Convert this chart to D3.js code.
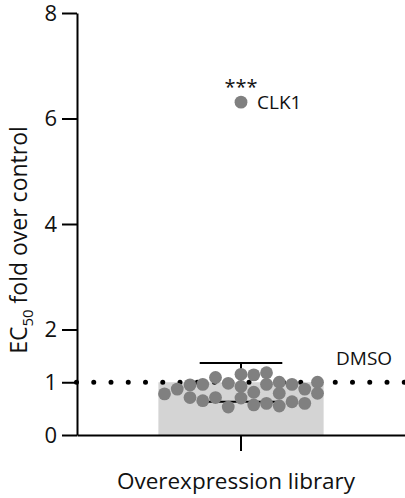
<!DOCTYPE html>
<html><head><meta charset="utf-8">
<script src="https://cdn.jsdelivr.net/npm/d3@7/dist/d3.min.js"></script>
<style>
body{margin:0;background:#fff}
svg{display:block}
text{font-family:"Open Sans",sans-serif;fill:#111}
</style>
</head><body>
<svg id="chart" width="405" height="498"></svg>
<script>
// ---- data ----
const category = ["Overexpression library"];
const geneValues = [6.31,
  0.92, 1.15, 0.70,
  1.14, 0.81, 0.57,
  0.98, 0.53,
  0.96, 0.60,
  0.71,
  1.09, 0.79, 0.55,
  0.96, 0.65,
  1.18, 0.96, 0.63,
  0.95, 0.71,
  0.87,
  0.87, 0.60,
  1.00, 0.79,
  1.00, 0.78];
const labelledGene = ["CLK1"];
const labelledValue = [6.31];
const significance = ["***"];
const barMean = [1.0];
const errorBar = [0.63, 1.365];
const controlLabel = ["DMSO"];
const controlValue = [1];
const yTicks = [0, 1, 2, 4, 6, 8];
const yTitleMain = ["EC", "50", " fold over control"];

// ---- layout ----
const svg = d3.select("#chart");
const y = d3.scaleLinear().domain([0, 8]).range([435, 13]);
const x = d3.scaleBand().domain(category).range([77, 405]).paddingInner(0.33).paddingOuter(0.33);
const cx = x(category[0]) + x.bandwidth() / 2;

const dotR = 6.4, colStep = 12.75, minGap = 11;

// bar
svg.append("rect")
  .attr("x", x(category[0])).attr("width", x.bandwidth())
  .attr("y", y(barMean[0])).attr("height", y(0) - y(barMean[0]))
  .attr("fill", "#d4d4d4");

// control dotted line
svg.append("line")
  .attr("x1", 76.5).attr("x2", 405)
  .attr("y1", y(controlValue[0])).attr("y2", y(controlValue[0]))
  .attr("stroke", "#000").attr("stroke-width", 5)
  .attr("stroke-linecap", "round").attr("stroke-dasharray", "0 17.25");

// error bar
const capW = x.bandwidth() / 2;
const eb = svg.append("g").attr("stroke", "#000").attr("stroke-width", 2);
eb.append("line").attr("x1", cx).attr("x2", cx).attr("y1", y(errorBar[0])).attr("y2", y(errorBar[1]));
errorBar.forEach(v => eb.append("line").attr("x1", cx - capW / 2).attr("x2", cx + capW / 2).attr("y1", y(v)).attr("y2", y(v)));

// swarm placement (column based)
const order = [0];
for (let k = 1; k <= 30; k++) order.push(k, -k);
const placed = new Map();
const pts = geneValues.map(v => {
  const py = y(v);
  for (const c of order) {
    const arr = placed.get(c) || [];
    if (arr.every(q => Math.abs(q - py) >= minGap)) {
      arr.push(py); placed.set(c, arr);
      return {v, c};
    }
  }
});
svg.append("g").selectAll("circle").data(pts).join("circle")
  .attr("cx", d => cx + d.c * colStep)
  .attr("cy", d => y(d.v))
  .attr("r", dotR)
  .attr("fill", "#808080");

// axes
const yAxis = svg.append("g").attr("transform", "translate(77,0)")
  .call(d3.axisLeft(y).tickValues(yTicks).tickSize(15).tickSizeOuter(0).tickPadding(5));
yAxis.selectAll("path,line").attr("stroke", "#000").attr("stroke-width", 2);
yAxis.selectAll("text").style("font-size", "22px").attr("fill", "#111").style("font-family", "'Open Sans',sans-serif");

const xAxis = svg.append("g").attr("transform", `translate(0,${y(0)})`)
  .call(d3.axisBottom(x).tickSize(16).tickSizeOuter(0).tickPadding(20));
xAxis.selectAll("path,line").attr("stroke", "#000").attr("stroke-width", 2);
xAxis.selectAll("text").style("font-size", "22.5px").attr("fill", "#111").style("font-family", "'Open Sans',sans-serif")
  .attr("dx", -5).attr("dy", "0.78em");

// y title
const yt = svg.append("text")
  .attr("transform", "translate(27,240) rotate(-90)")
  .attr("text-anchor", "middle")
  .style("font-size", "23px");
yt.append("tspan").text(yTitleMain[0]);
yt.append("tspan").text(yTitleMain[1]).style("font-size", "15px").attr("dy", 6);
yt.append("tspan").text(yTitleMain[2]).attr("dy", -6);

// annotations
svg.append("text").attr("x", cx).attr("y", y(labelledValue[0]) - 8)
  .attr("text-anchor", "middle").style("font-size", "20px").text(significance[0]);
svg.append("text").attr("x", cx + 16).attr("y", y(labelledValue[0]) + 7)
  .style("font-size", "19px").text(labelledGene[0]);
svg.append("text").attr("x", 336).attr("y", y(controlValue[0]) - 17)
  .style("font-size", "19px").text(controlLabel[0]);
</script>
</body></html>
